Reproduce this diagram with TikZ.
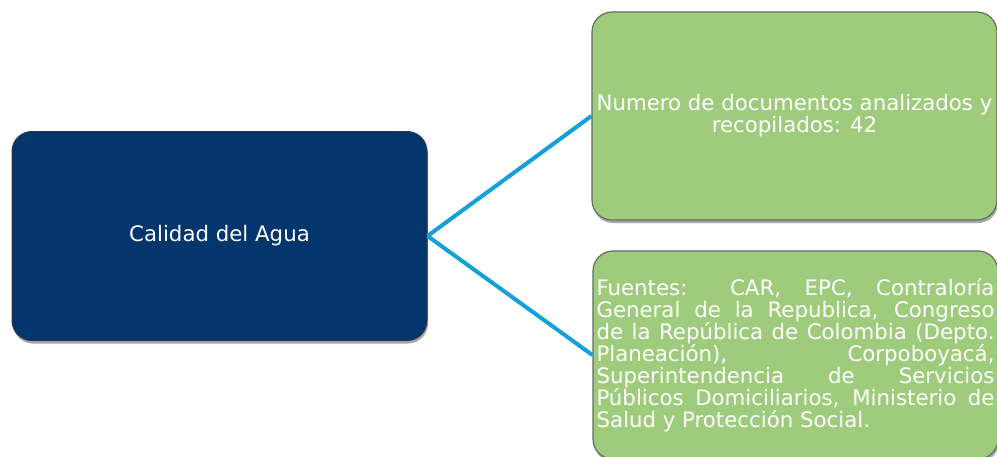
\documentclass[tikz,border=0pt]{standalone}
\usepackage{fontspec}
\setmainfont{DejaVu Sans}
\usetikzlibrary{shadows}

\tikzset{
  caja/.style={rounded corners=20, minimum width=405, minimum height=208, text=white,
    font=\fontsize{21.3}{22}\selectfont,
    drop shadow={shadow xshift=1pt, shadow yshift=-3pt, opacity=0.35, fill=black}},
  tema/.style={caja, draw={rgb, 255:red, 45; green, 55; blue, 75}, line width=1,
    fill={rgb, 255:red, 4; green, 54; blue, 110}, minimum width=415, minimum height=209},
  dato/.style={caja, draw={rgb, 255:red, 100; green, 110; blue, 95}, line width=1.2,
    fill={rgb, 255:red, 158; green, 204; blue, 124}},
  rama/.style={draw={rgb, 255:red, 18; green, 160; blue, 220}, line width=4}
}

\begin{document}
\begin{tikzpicture}[x=1pt,y=1pt,yscale=-1,xscale=1]
\clip (0,0) rectangle (997,456);
\fill[white] (0,0) rectangle (997,456);

%Tema central
\node[tema] (agua) at (219.5,236) {Calidad del Agua};

%Numero de documentos
\node[dato, align=center] (numero) at (794.5,116) {Numero de documentos analizados y\\recopilados: 42};

%Fuentes
\node[dato, text width=398, inner xsep=3.5, align=justify] (fuentes) at (795.5,355)
  {\hyphenpenalty=10000 Fuentes: CAR, EPC, Contraloría\linebreak
   General de la Republica, Congreso\linebreak
   de la República de Colombia (Depto.\linebreak
   Planeación), Corpoboyacá,\linebreak
   Superintendencia de Servicios\linebreak
   Públicos Domiciliarios, Ministerio de\linebreak
   Salud y Protección Social.};

%Ramas
\draw[rama] (agua.east) -- (numero.west);
\draw[rama] (agua.east) -- (fuentes.west);

\end{tikzpicture}
\end{document}
